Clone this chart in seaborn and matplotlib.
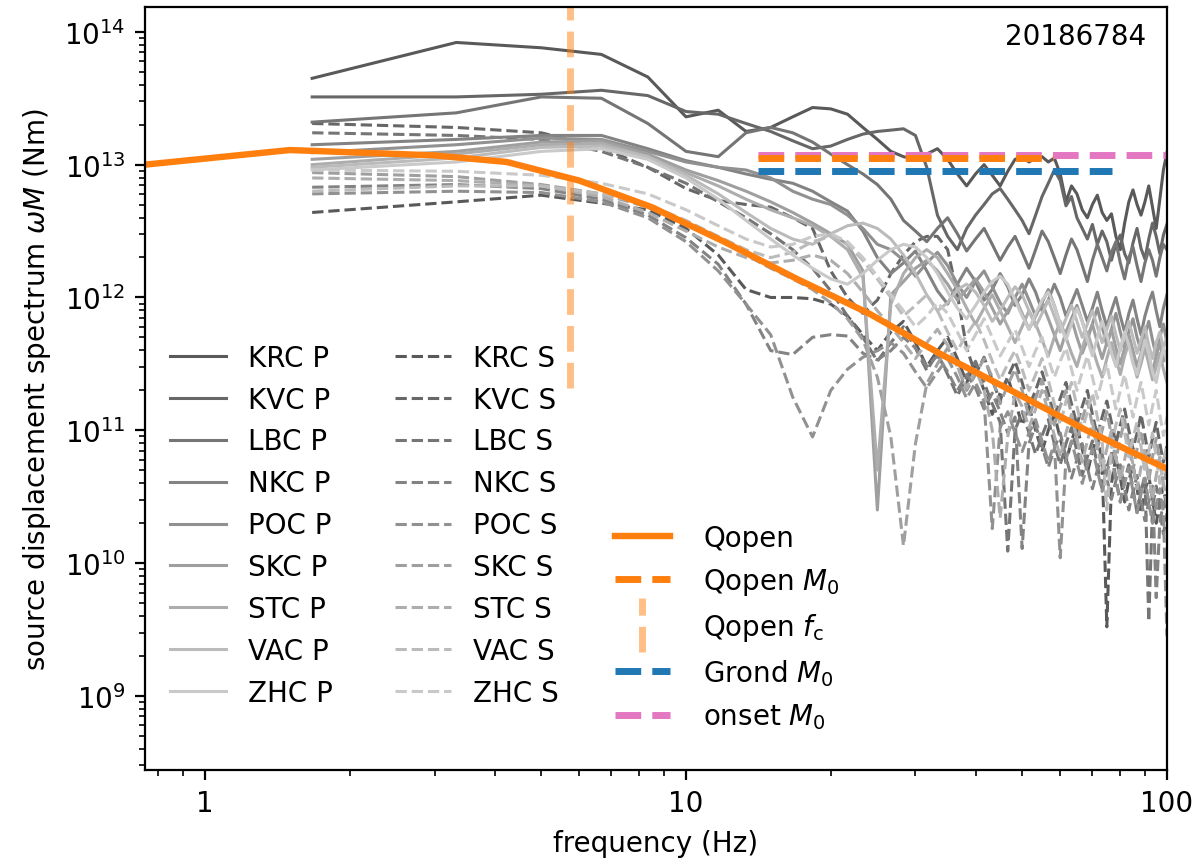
import numpy as np
import pandas as pd
import matplotlib
matplotlib.use("Agg")
import matplotlib.pyplot as plt
from matplotlib.lines import Line2D
from matplotlib.legend_handler import HandlerBase
from matplotlib.ticker import FuncFormatter, NullFormatter
import seaborn as sns

# ---------------------------------------------------------------------------
# Data
# ---------------------------------------------------------------------------
event_id = "20186784"
stations = ["KRC", "KVC", "LBC", "NKC", "POC", "SKC", "STC", "VAC", "ZHC"]

# frequency grid of the station spectra (Hz)
freqs = [1.67, 3.33, 5.0, 6.67, 8.33, 10.0, 11.67, 13.33, 15.0, 16.67,
         18.33, 20.0, 21.67, 23.33, 25.0, 26.67, 28.33, 30.0, 31.67, 33.33,
         35.0, 36.67, 38.33, 40.0, 41.67, 43.33, 45.0, 46.67, 48.33, 50.0,
         51.67, 53.33, 55.0, 56.67, 58.33, 60.0, 61.67, 63.33, 65.0, 66.67,
         68.33, 70.0, 71.67, 73.33, 75.0, 76.67, 78.33, 80.0, 81.67, 83.33,
         85.0, 86.67, 88.33, 90.0, 91.67, 93.33, 95.0, 96.67, 98.33, 100.0]

# log10 of source displacement spectrum (Nm), P phase
krc_p = [13.65, 13.92, 13.88, 13.83, 13.66, 13.36, 13.41, 13.25, 13.28, 13.36,
         13.43, 13.42, 13.38, 13.28, 13.19, 13.10, 13.06, 13.04, 13.08, 13.12,
         13.04, 12.93, 12.84, 12.93, 13.00, 12.92, 12.84, 12.95, 13.04, 13.06,
         13.02, 13.05, 13.06, 13.02, 13.05, 12.93, 12.72, 12.84, 12.78, 12.66,
         12.60, 12.70, 12.77, 12.64, 12.58, 12.63, 12.46, 12.36, 12.56, 12.72,
         12.81, 12.70, 12.62, 12.72, 12.84, 12.68, 12.52, 12.74, 12.96, 13.09]
kvc_p = [13.51, 13.51, 13.53, 13.56, 13.52, 13.40, 13.38, 13.31, 13.25, 13.18,
         13.12, 13.14, 13.19, 13.23, 13.25, 13.26, 13.27, 13.22, 12.98, 12.62,
         12.46, 12.36, 12.52, 12.62, 12.70, 12.78, 12.82, 12.74, 12.66, 12.58,
         12.48, 12.62, 12.76, 12.86, 12.96, 12.88, 12.69, 12.76, 12.60, 12.52,
         12.44, 12.55, 12.40, 12.50, 12.42, 12.28, 12.40, 12.47, 12.33, 12.26,
         12.41, 12.52, 12.37, 12.29, 12.44, 12.56, 12.46, 12.33, 12.47, 12.55]
lbc_p = [13.32, 13.39, 13.51, 13.50, 13.31, 13.10, 13.06, 13.24, 13.28, 13.24,
         13.17, 13.08, 13.00, 12.93, 12.85, 12.74, 12.58, 12.50, 12.42, 12.52,
         12.60, 12.48, 12.35, 12.44, 12.52, 12.40, 12.28, 12.38, 12.46, 12.34,
         12.22, 12.36, 12.50, 12.42, 12.30, 12.18, 12.32, 12.44, 12.36, 12.24,
         12.12, 12.28, 12.40, 12.30, 12.20, 12.34, 12.42, 12.26, 12.14, 12.30,
         12.38, 12.24, 12.12, 12.26, 12.36, 12.28, 12.16, 12.30, 12.40, 12.36]
nkc_p = [13.15, 13.19, 13.22, 13.22, 13.12, 13.03, 12.98, 12.93, 12.89, 12.86,
         12.80, 12.72, 12.65, 12.50, 12.30, 12.18, 12.26, 12.35, 12.20, 12.05,
         11.95, 12.10, 12.22, 12.12, 11.98, 12.06, 12.18, 12.08, 11.94, 12.02,
         12.14, 12.04, 11.90, 11.98, 12.10, 12.00, 11.86, 11.96, 12.06, 11.94,
         11.82, 11.92, 12.04, 11.90, 11.78, 11.90, 12.00, 11.86, 11.74, 11.88,
         11.98, 11.84, 11.72, 11.86, 11.96, 12.04, 11.90, 11.78, 11.92, 12.02]
poc_p = [13.09, 13.15, 13.20, 13.19, 13.10, 13.02, 12.98, 12.96, 12.90, 12.80,
         12.74, 12.70, 12.62, 12.52, 12.40, 12.36, 12.28, 12.16, 12.26, 12.34,
         12.24, 12.10, 12.00, 12.12, 12.20, 12.08, 11.96, 11.88, 12.00, 12.10,
         11.98, 11.86, 11.96, 12.06, 11.94, 11.80, 11.70, 11.84, 11.94, 11.82,
         11.70, 11.80, 11.92, 11.78, 11.64, 11.76, 11.88, 11.74, 11.62, 11.74,
         11.84, 11.70, 11.60, 11.72, 11.82, 11.68, 11.56, 11.70, 11.80, 11.66]
skc_p = [13.04, 13.10, 13.17, 13.18, 13.08, 12.96, 12.88, 12.80, 12.72, 12.64,
         12.56, 12.48, 12.40, 12.20, 10.40, 12.02, 12.12, 12.22, 12.28, 12.20,
         12.10, 11.98, 12.06, 12.14, 12.04, 11.92, 11.80, 11.90, 12.00, 11.88,
         11.76, 11.86, 11.96, 11.84, 11.72, 11.60, 11.74, 11.84, 11.70, 11.58,
         11.68, 11.80, 11.66, 11.54, 11.66, 11.76, 11.62, 11.50, 11.62, 11.72,
         11.60, 11.48, 11.58, 11.70, 11.56, 11.44, 11.56, 11.66, 11.52, 11.60]
stc_p = [13.00, 13.08, 13.15, 13.16, 13.06, 12.94, 12.84, 12.74, 12.66, 12.60,
         12.54, 12.46, 12.36, 12.15, 10.70, 11.95, 12.18, 12.30, 12.36, 12.30,
         12.18, 12.06, 11.92, 11.80, 11.92, 12.02, 11.90, 11.78, 11.66, 11.78,
         11.90, 11.80, 11.68, 11.56, 11.70, 11.82, 11.70, 11.58, 11.48, 11.62,
         11.74, 11.62, 11.50, 11.40, 11.54, 11.66, 11.54, 11.42, 11.56, 11.66,
         11.52, 11.40, 11.50, 11.62, 11.50, 11.38, 11.48, 11.58, 11.46, 11.36]
vac_p = [12.98, 13.05, 13.13, 13.14, 13.06, 12.92, 12.78, 12.64, 12.52, 12.44,
         12.40, 12.48, 12.54, 12.56, 12.52, 12.44, 12.32, 12.18, 12.02, 11.90,
         11.96, 12.06, 12.10, 12.04, 11.94, 11.82, 11.90, 12.00, 12.08, 12.02,
         11.90, 11.78, 11.88, 11.98, 11.86, 11.74, 11.84, 11.94, 11.82, 11.70,
         11.80, 11.90, 11.78, 11.66, 11.76, 11.86, 11.72, 11.60, 11.72, 11.82,
         11.70, 11.58, 11.68, 11.78, 11.64, 11.54, 11.66, 11.74, 11.62, 11.70]
zhc_p = [12.96, 13.02, 13.10, 13.12, 13.04, 12.90, 12.74, 12.58, 12.44, 12.32,
         12.22, 12.14, 12.10, 12.18, 12.28, 12.36, 12.40, 12.38, 12.30, 12.18,
         12.04, 11.92, 11.84, 11.94, 12.04, 12.12, 12.16, 12.10, 11.98, 11.86,
         11.76, 11.88, 11.98, 12.04, 11.94, 11.80, 11.68, 11.80, 11.92, 11.82,
         11.68, 11.56, 11.70, 11.82, 11.72, 11.58, 11.48, 11.62, 11.74, 11.64,
         11.50, 11.42, 11.56, 11.68, 11.58, 11.44, 11.36, 11.50, 11.62, 11.52]

# log10 of source displacement spectrum (Nm), S phase
krc_s = [12.64, 12.72, 12.77, 12.71, 12.66, 12.52, 12.32, 12.06, 12.00, 12.00,
         11.99, 11.95, 11.86, 11.72, 11.60, 11.74, 11.82, 11.66, 11.48, 11.60,
         11.70, 11.54, 11.36, 11.48, 11.30, 11.12, 11.28, 11.40, 11.22, 11.04,
         11.18, 11.00, 10.84, 11.00, 11.12, 10.94, 10.76, 10.92, 11.04, 10.86,
         10.68, 10.84, 10.96, 10.76, 9.52, 10.60, 10.80, 10.64, 10.46, 10.62,
         10.74, 10.56, 10.38, 10.54, 10.66, 10.48, 10.30, 10.46, 10.58, 10.40]
kvc_s = [13.31, 13.28, 13.24, 13.13, 12.98, 12.82, 12.73, 12.70, 12.68, 12.60,
         12.52, 12.20, 12.00, 11.88, 11.98, 12.18, 12.32, 12.42, 12.46, 12.46,
         12.36, 12.02, 11.62, 11.42, 11.55, 11.38, 11.22, 11.40, 11.52, 11.36,
         11.18, 11.30, 11.44, 11.28, 11.10, 11.24, 11.36, 11.20, 11.04, 11.18,
         11.30, 11.12, 10.96, 11.10, 11.22, 11.06, 10.90, 11.04, 11.16, 11.00,
         10.86, 10.98, 11.12, 10.96, 10.80, 10.94, 11.06, 10.90, 10.76, 10.88]
lbc_s = [13.24, 13.22, 13.19, 13.10, 12.98, 12.86, 12.72, 12.60, 12.48, 12.36,
         12.22, 12.05, 11.86, 11.70, 11.52, 11.66, 11.78, 11.62, 11.45, 11.58,
         11.42, 11.26, 11.40, 11.52, 11.36, 11.20, 11.06, 10.09, 11.00, 11.14,
         10.98, 10.82, 10.96, 11.08, 10.90, 10.74, 10.90, 11.02, 10.84, 10.66,
         10.80, 10.92, 10.74, 10.56, 10.72, 10.84, 10.64, 10.46, 10.62, 10.74,
         10.56, 10.38, 10.54, 10.66, 9.56, 10.42, 10.58, 10.40, 10.22, 10.36]
nkc_s = [12.83, 12.85, 12.82, 12.74, 12.62, 12.45, 12.25, 11.95, 11.60, 11.57,
         11.70, 11.72, 11.71, 11.58, 11.53, 11.60, 11.70, 11.62, 11.48, 11.56,
         11.44, 11.30, 11.42, 11.32, 11.16, 11.28, 11.14, 10.98, 11.10, 10.11,
         10.90, 11.04, 10.88, 10.72, 10.86, 10.98, 10.80, 10.64, 10.78, 10.90,
         10.72, 10.56, 10.70, 10.82, 10.64, 10.48, 10.62, 10.74, 10.56, 10.40,
         10.54, 10.66, 10.48, 10.32, 10.46, 10.58, 9.74, 10.30, 10.46, 10.36]
poc_s = [12.78, 12.80, 12.79, 12.72, 12.60, 12.42, 12.20, 11.95, 11.72, 11.25,
         10.95, 11.30, 11.46, 11.55, 11.60, 11.66, 11.58, 11.44, 11.32, 11.44,
         11.54, 11.40, 11.24, 11.36, 11.22, 10.26, 11.02, 11.14, 10.98, 10.84,
         10.98, 11.08, 10.92, 10.76, 10.90, 10.04, 10.78, 10.92, 10.76, 10.60,
         10.74, 10.86, 10.70, 10.54, 10.68, 10.80, 10.62, 10.46, 10.60, 10.72,
         10.54, 10.38, 10.52, 10.64, 10.46, 10.30, 10.44, 10.56, 10.38, 9.45]
skc_s = [12.94, 12.91, 12.85, 12.78, 12.68, 12.56, 12.44, 12.32, 12.22, 12.14,
         12.06, 11.96, 11.84, 11.68, 11.40, 10.95, 10.13, 10.90, 11.35, 11.50,
         11.62, 11.48, 11.30, 11.42, 11.54, 11.40, 11.20, 11.34, 11.46, 11.30,
         11.10, 11.24, 11.38, 11.22, 11.04, 11.18, 11.30, 11.12, 10.92, 11.08,
         11.22, 11.04, 10.86, 11.00, 11.14, 10.96, 10.78, 10.94, 11.08, 10.90,
         10.70, 10.86, 11.00, 10.82, 10.62, 10.80, 10.94, 10.76, 10.58, 10.72]
stc_s = [12.90, 12.88, 12.84, 12.76, 12.64, 12.50, 12.38, 12.30, 12.26, 12.28,
         12.32, 12.28, 12.18, 12.04, 11.90, 11.78, 11.66, 11.54, 11.66, 11.76,
         11.64, 11.48, 11.32, 11.46, 11.30, 11.00, 10.34, 10.95, 11.28, 11.18,
         11.02, 11.16, 11.30, 11.14, 10.96, 10.80, 10.98, 11.12, 10.94, 10.76,
         10.92, 11.06, 10.88, 10.70, 10.86, 11.00, 10.80, 10.62, 10.78, 10.92,
         10.74, 10.56, 10.72, 10.86, 10.66, 10.48, 10.66, 10.80, 10.60, 10.44]
vac_s = [12.80, 12.84, 12.84, 12.78, 12.70, 12.58, 12.46, 12.36, 12.30, 12.34,
         12.42, 12.46, 12.40, 12.28, 12.14, 12.00, 11.86, 11.94, 12.02, 11.90,
         11.74, 11.60, 11.72, 11.82, 11.68, 11.52, 11.38, 11.50, 11.60, 11.46,
         11.30, 11.42, 11.54, 11.38, 11.20, 11.04, 11.22, 11.36, 11.18, 11.00,
         11.14, 11.28, 11.10, 10.92, 10.40, 10.88, 11.04, 11.16, 10.98, 10.80,
         10.94, 11.06, 10.88, 10.68, 10.84, 10.98, 10.80, 10.60, 10.76, 10.90]
zhc_s = [12.96, 12.95, 12.92, 12.86, 12.78, 12.66, 12.54, 12.44, 12.38, 12.40,
         12.46, 12.48, 12.42, 12.30, 12.16, 12.02, 11.90, 11.78, 11.86, 11.96,
         11.88, 11.74, 11.60, 11.72, 11.84, 11.70, 11.56, 11.66, 11.76, 11.62,
         11.48, 11.60, 11.70, 11.54, 11.40, 11.52, 11.62, 11.46, 11.30, 11.44,
         11.56, 11.40, 11.24, 11.38, 11.50, 11.32, 11.16, 11.30, 11.42, 11.26,
         11.10, 11.24, 11.36, 11.20, 11.04, 11.18, 11.30, 11.12, 10.96, 11.10]

p_spectra = [krc_p, kvc_p, lbc_p, nkc_p, poc_p, skc_p, stc_p, vac_p, zhc_p]
s_spectra = [krc_s, kvc_s, lbc_s, nkc_s, poc_s, skc_s, stc_s, vac_s, zhc_s]

# Qopen source model (frequency in Hz, log10 of spectrum in Nm)
qopen_freqs = [0.75, 1.5, 2.12, 3.0, 4.24, 6.0, 8.49, 12.0, 17.0, 24.0,
               34.0, 48.0, 68.0, 100.0]
qopen_log = [13.00, 13.11, 13.09, 13.07, 13.02, 12.88, 12.68, 12.42, 12.14,
             11.88, 11.57, 11.29, 11.00, 10.71]

qopen_fc = 5.74          # corner frequency (Hz)
qopen_m0 = 1.12e13       # seismic moments (Nm)
grond_m0 = 9.0e12
onset_m0 = 1.19e13
qopen_m0_band = [14.1, 58.0]
grond_m0_band = [14.1, 77.0]
onset_m0_band = [14.1, 100.0]

# ---------------------------------------------------------------------------
# Long-form table for seaborn
# ---------------------------------------------------------------------------
rows = []
for sta, p_vals, s_vals in zip(stations, p_spectra, s_spectra):
    for phase, vals in (("P", p_vals), ("S", s_vals)):
        for f, v in zip(freqs, vals):
            rows.append({"freq": f, "spec": 10.0 ** v,
                         "station": sta, "phase": phase})
spectra = pd.DataFrame(rows)
qopen = pd.DataFrame({"freq": qopen_freqs, "spec": 10.0 ** np.array(qopen_log)})

grays = [str(g) for g in np.linspace(0.35, 0.79, len(stations))]

# ---------------------------------------------------------------------------
# Figure
# ---------------------------------------------------------------------------
fig = plt.figure(figsize=(5.975, 4.31), dpi=200)
ax = fig.add_axes([0.1213, 0.1056, 0.8552, 0.8852])

p_handles, s_handles = [], []
for sta, col in zip(stations, grays):
    for phase, ls in (("P", "-"), ("S", "--")):
        sub = spectra[(spectra["station"] == sta) & (spectra["phase"] == phase)]
        sns.lineplot(data=sub, x="freq", y="spec", color=col, lw=1.1,
                     linestyle=ls, label=f"{sta} {phase}", legend=False,
                     estimator=None, sort=False, ax=ax)
        line = ax.lines[-1]
        (p_handles if phase == "P" else s_handles).append(line)

sns.lineplot(data=qopen, x="freq", y="spec", color="C1", lw=2.3,
             label="Qopen", legend=False, estimator=None, sort=False, ax=ax)
qopen_line = ax.lines[-1]

onset_line, = ax.plot(onset_m0_band, [onset_m0, onset_m0], ls="--", lw=2.5,
                      color="C6", label="onset $M_0$")
qm0_line, = ax.plot(qopen_m0_band, [qopen_m0, qopen_m0], ls="--", lw=2.5,
                    color="C1", label="Qopen $M_0$")
grond_line, = ax.plot(grond_m0_band, [grond_m0, grond_m0], ls="--", lw=2.5,
                      color="C0", label="Grond $M_0$")
fc_line = ax.axvline(qopen_fc, ymin=0.5, ymax=1.0, ls="--", lw=2.5,
                     color="C1", alpha=0.5, label="Qopen $f_\\mathrm{c}$")

ax.set_xscale("log")
ax.set_yscale("log")
ax.set_xlim(0.75, 100)
ax.set_ylim(2.77e8, 1.54e14)
ax.xaxis.set_major_formatter(FuncFormatter(lambda v, _: f"{v:g}"))
ax.xaxis.set_minor_formatter(NullFormatter())
ax.set_xlabel("frequency (Hz)")
ax.set_ylabel("source displacement spectrum $\\omega M$ (Nm)")

ax.text(0.98, 0.98, event_id, transform=ax.transAxes, ha="right", va="top")


class VerticalLineHandler(HandlerBase):
    """Legend handle drawn as an upright line segment."""

    def create_artists(self, legend, orig_handle, xdescent, ydescent,
                       width, height, fontsize, trans):
        xc = 0.5 * width - xdescent
        seg = Line2D([xc, xc], [-0.9 * height - ydescent,
                                1.9 * height - ydescent])
        self.update_prop(seg, orig_handle, legend)
        seg.set_transform(trans)
        return [seg]


leg1 = ax.legend(handles=p_handles + s_handles, ncol=2, loc="lower left",
                 bbox_to_anchor=(0.0, 0.05), columnspacing=2.25,
                 frameon=False)
ax.add_artist(leg1)

ax.legend(handles=[qopen_line, qm0_line, fc_line, grond_line, onset_line],
          labels=["Qopen", "Qopen $M_0$", "Qopen $f_\\mathrm{c}$",
                  "Grond $M_0$", "onset $M_0$"],
          loc="lower left", bbox_to_anchor=(0.435, 0.018), frameon=False,
          handletextpad=1.2,
          handler_map={fc_line: VerticalLineHandler()})

fig.savefig("out.png", dpi=200)
